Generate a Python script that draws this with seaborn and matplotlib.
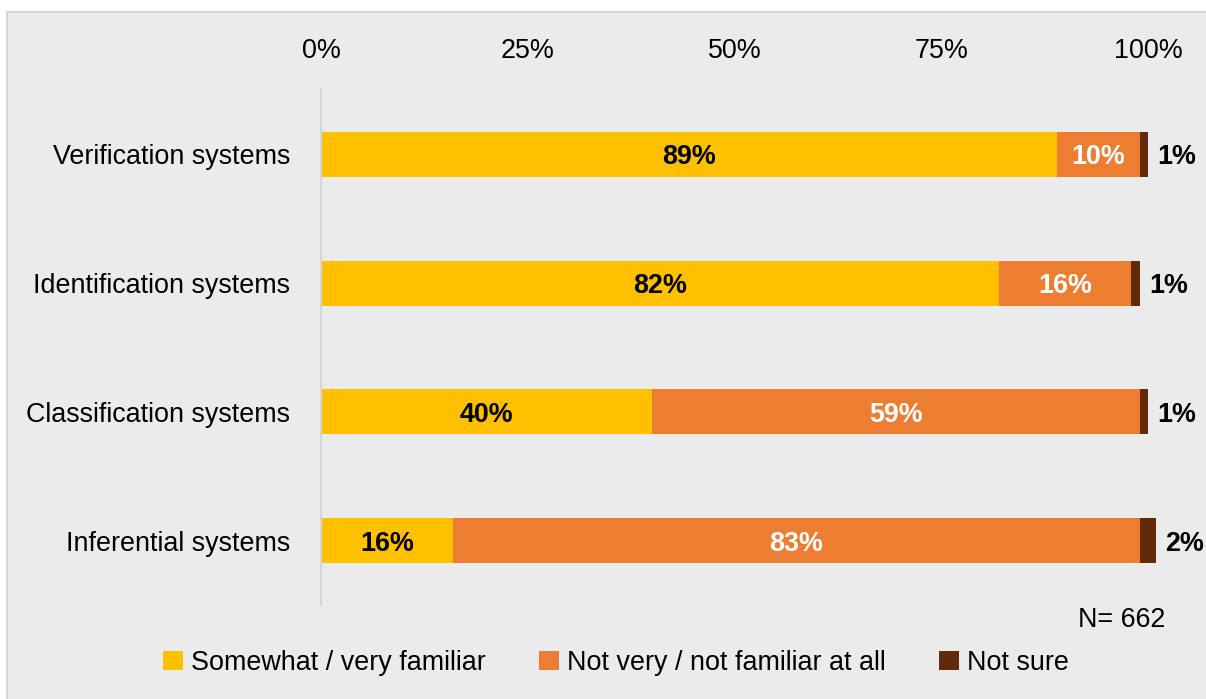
import matplotlib
matplotlib.use("Agg")
import matplotlib.pyplot as plt
from matplotlib.patches import Rectangle, Patch
import numpy as np
import pandas as pd
import seaborn as sns

# Survey results: familiarity with biometric system types (percent)
categories = ["Verification systems", "Identification systems",
              "Classification systems", "Inferential systems"]
familiar = [89, 82, 40, 16]
not_familiar = [10, 16, 59, 83]
not_sure = [1, 1, 1, 2]
series_names = ["Somewhat / very familiar", "Not very / not familiar at all", "Not sure"]
tick_values = [0, 25, 50, 75, 100]
tick_labels = ["0%", "25%", "50%", "75%", "100%"]
sample_note = "N= 662"

c_yellow = "#FFC000"
c_orange = "#ED7D31"
c_dark = "#63290B"
panel_bg = "#EBEBEB"
FONT = "Liberation Sans"
FS = 19.4

plt.rcParams["font.family"] = [FONT, "DejaVu Sans"]

df = pd.DataFrame({
    "category": categories,
    "familiar": familiar,
    "not_familiar": not_familiar,
    "not_sure": not_sure,
})
df["cum1"] = df["familiar"]
df["cum2"] = df["familiar"] + df["not_familiar"]
df["cum3"] = df["cum2"] + df["not_sure"]

fig = plt.figure(figsize=(12.06, 6.99), dpi=100, facecolor="white")

# grey panel behind the chart (border shows on the left and top only)
fig.patches.append(Rectangle((7 / 1206, -0.05), 1.1, 1.05 - 12 / 699,
                             transform=fig.transFigure, facecolor=panel_bg,
                             edgecolor="#D6D6D6", linewidth=1.5, zorder=-10))

# x scale: 100% sits at x=1148 px, axis extends slightly past it
px_per_pct = (1148 - 321) / 100
xmax = 101.5
ax = fig.add_axes([321 / 1206, 1 - 605 / 699, xmax * px_per_pct / 1206, (605 - 90) / 699])
ax.set_facecolor("none")

# stacked bars drawn as overlapping cumulative totals
for col, color in [("cum3", c_dark), ("cum2", c_orange), ("cum1", c_yellow)]:
    sns.barplot(data=df, x=col, y="category", orient="h", color=color,
                saturation=1, width=0.35, linewidth=0, ax=ax)

ax.set_xlim(0, xmax)
ax.set_ylim(3.5, -0.5)
ax.set_xlabel("")
ax.set_ylabel("")

ax.xaxis.tick_top()
ax.set_xticks(tick_values)
ax.set_xticklabels(tick_labels, fontsize=FS)
ax.tick_params(axis="x", length=0, pad=19)
ax.tick_params(axis="y", length=0, pad=22, labelsize=FS)

for s in ["top", "right", "bottom"]:
    ax.spines[s].set_visible(False)
ax.spines["left"].set_color("#D6D6D6")
ax.spines["left"].set_linewidth(1.5)

# value labels
for i, row in df.iterrows():
    ax.text(row["familiar"] / 2, i, f"{row['familiar']}%", ha="center",
            va="center_baseline", fontsize=FS, fontweight="bold", color="black")
    ax.text(row["familiar"] + row["not_familiar"] / 2, i, f"{row['not_familiar']}%",
            ha="center", va="center_baseline", fontsize=FS, fontweight="bold",
            color="white")
    ax.text(row["cum3"] + 1.1, i, f"{row['not_sure']}%", ha="left",
            va="center_baseline", fontsize=FS, fontweight="bold", color="black",
            clip_on=False)

fig.text(1165 / 1206, 1 - 620 / 699, sample_note, ha="right", va="center",
         fontsize=FS, color="black")

handles = [Patch(facecolor=c, edgecolor="none") for c in (c_yellow, c_orange, c_dark)]
fig.legend(handles, series_names, loc="center", bbox_to_anchor=(616 / 1206, 1 - 663 / 699),
           ncol=3, frameon=False, fontsize=FS, handlelength=0.72, handleheight=0.72,
           handletextpad=0.3, columnspacing=2.0, borderaxespad=0)

fig.savefig("out.png", dpi=100, facecolor="white")
